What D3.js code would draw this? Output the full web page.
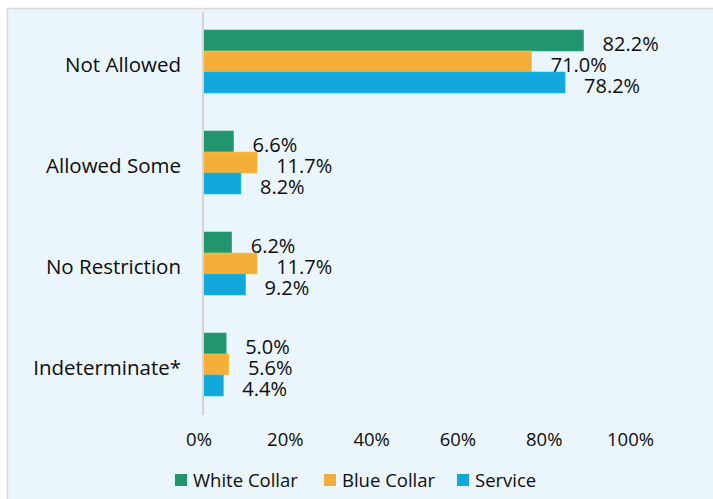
<!DOCTYPE html>
<html>
<head>
<meta charset="utf-8">
<script src="https://cdn.jsdelivr.net/npm/d3@7"></script>
<style>
  html, body { margin: 0; padding: 0; background: #ffffff; }
  svg { display: block; }
  text { font-family: "Open Sans", "Noto Sans", sans-serif; fill: #0d0d0d; }
</style>
</head>
<body>
<svg id="chart" width="713" height="499"></svg>
<script>
const categories = ["Not Allowed", "Allowed Some", "No Restriction", "Indeterminate*"];
const seriesNames = ["White Collar", "Blue Collar", "Service"];
const whiteCollar = [82.2, 6.6, 6.2, 5.0];
const blueCollar = [71.0, 11.7, 11.7, 5.6];
const service = [78.2, 8.2, 9.2, 4.4];
const tickValues = [0, 20, 40, 60, 80, 100];
const colors = ["#21956E", "#F4AF3A", "#12A8DC"];

const seriesValues = [whiteCollar, blueCollar, service];

const svg = d3.select("#chart");
const W = 713, H = 499;

// panel background
svg.append("rect").attr("x", 0).attr("y", 0).attr("width", W).attr("height", H).attr("fill", "#ffffff");
svg.append("rect").attr("x", 7.5).attr("y", 8.5).attr("width", W).attr("height", H)
  .attr("fill", "#EBF5FC").attr("stroke", "#d9d9d9").attr("stroke-width", 1.5);

const x = d3.scaleLinear().domain([0, 100]).range([203, 666]);
const xTicks = d3.scaleLinear().domain([0, 100]).range([198.5, 630]);
const y = d3.scaleBand().domain(categories).range([11, 415]).paddingInner(0).paddingOuter(0);
const yInner = d3.scaleBand().domain(seriesNames).range([-31.5, 31.5]);

// bars
categories.forEach((cat, ci) => {
  const cy = y(cat) + y.bandwidth() / 2;
  seriesNames.forEach((s, si) => {
    const v = seriesValues[si][ci];
    svg.append("rect")
      .attr("x", x(0))
      .attr("y", cy + yInner(s))
      .attr("width", x(v) - x(0))
      .attr("height", yInner.bandwidth())
      .attr("fill", colors[si])
      .attr("stroke", d3.color(colors[si]).brighter(0.4))
      .attr("stroke-width", 0.6);
    svg.append("text")
      .attr("x", x(v) + 19)
      .attr("y", cy + yInner(s) + yInner.bandwidth() / 2 + 10)
      .attr("font-size", 20)
      .text(v.toFixed(1) + "%");
  });
  svg.append("text")
    .attr("x", 181)
    .attr("y", cy + 10.5)
    .attr("text-anchor", "end")
    .attr("font-size", 20.5)
    .text(cat);
});

// vertical axis line
svg.append("line")
  .attr("x1", x(0)).attr("x2", x(0))
  .attr("y1", 12).attr("y2", 415)
  .attr("stroke", "#d4d4d4").attr("stroke-width", 2);

// x axis tick labels
const xAxis = d3.axisBottom(xTicks).tickValues(tickValues).tickSize(0).tickPadding(0)
  .tickFormat(d => d + "%");
const gx = svg.append("g").attr("transform", "translate(0,433)").call(xAxis);
gx.select(".domain").remove();
gx.selectAll("text").attr("font-size", 18.5).attr("fill", "#0d0d0d")
  .attr("font-family", "'Open Sans', 'Noto Sans', sans-serif");

// legend
const legendX = [175, 324, 457];
seriesNames.forEach((s, i) => {
  svg.append("rect").attr("x", legendX[i]).attr("y", 474).attr("width", 12).attr("height", 12)
    .attr("fill", colors[i]);
  svg.append("text").attr("x", legendX[i] + 18).attr("y", 487).attr("font-size", 18.5).text(s);
});
</script>
</body>
</html>
